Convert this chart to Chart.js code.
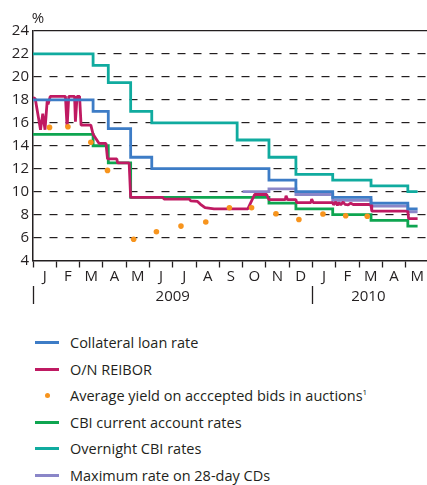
<!DOCTYPE html>
<html>
<head>
<meta charset="utf-8">
<script src="https://cdn.jsdelivr.net/npm/chart.js@4.4.1/dist/chart.umd.min.js"></script>
<style>
html,body{margin:0;padding:0;background:#fff;width:427px;height:485px;overflow:hidden;font-family:"Open Sans",sans-serif;}
#wrap{position:relative;width:427px;height:485px;}
#c{position:absolute;left:0;top:0;}
#legend{position:absolute;left:0;top:329px;width:427px;}
.row{position:absolute;left:0;height:27px;width:427px;}
.sw{position:absolute;left:35px;width:24px;height:3px;top:12px;}
.dot{position:absolute;left:45px;width:5px;height:5px;border-radius:50%;top:11px;}
.lbl{position:absolute;left:70px;top:0;line-height:27px;font-size:14.5px;color:#231f20;white-space:nowrap;}
.lbl sup{font-size:8px;vertical-align:6px;line-height:0;}
</style>
</head>
<body>
<div id="wrap">
<canvas id="c" width="427" height="310"></canvas>
<div id="legend"></div>
</div>
<script>
// ---------- DATA ----------
const monthLabels = ['J','F','M','A','M','J','J','A','S','O','N','D','J','F','M','A','M'];
const yearLabels = ['2009','2010'];
const yTicks = [4,6,8,10,12,14,16,18,20,22,24];
const endDate = '2010-05-17';

const collateralDates = ['2009-01-01','2009-03-19','2009-04-08','2009-05-07','2009-06-04','2009-11-05','2009-12-10','2010-01-28','2010-03-17','2010-05-04'];
const collateralRates = [18, 17, 15.5, 13, 12, 11, 10, 9.5, 9, 8.5];

const overnightDates = ['2009-01-01','2009-03-19','2009-04-08','2009-05-07','2009-06-04','2009-09-24','2009-11-05','2009-12-10','2010-01-28','2010-03-17','2010-05-04'];
const overnightRates = [22, 21, 19.5, 17, 16, 14.5, 13, 11.5, 11, 10.5, 10];

const currentAccDates = ['2009-01-01','2009-03-19','2009-04-08','2009-05-07','2009-11-05','2009-12-10','2010-01-28','2010-03-17','2010-05-04'];
const currentAccRates = [15, 14, 12.5, 9.5, 9, 8.5, 8, 7.5, 7];

const cdDates = ['2009-10-01','2009-11-05','2009-12-10','2010-01-28','2010-03-17','2010-05-04'];
const cdRates = [10, 10.25, 9.75, 9.25, 8.75, 8.25];

const reiborDates = ['2009-01-01','2009-01-04','2009-01-11','2009-01-14','2009-01-17','2009-01-20','2009-01-21','2009-01-24',
  '2009-02-12','2009-02-14','2009-02-16','2009-02-23','2009-02-24','2009-02-26','2009-03-01','2009-03-03','2009-03-16',
  '2009-03-19','2009-03-22','2009-03-27','2009-04-05','2009-04-07','2009-04-19','2009-04-20','2009-05-05','2009-05-07',
  '2009-06-18','2009-06-20','2009-07-23','2009-07-25','2009-08-03','2009-08-07','2009-08-13','2009-08-25','2009-10-08',
  '2009-10-17','2009-11-02','2009-11-05','2009-11-26','2009-11-27','2009-11-29','2009-12-10','2009-12-11','2009-12-30',
  '2009-12-31','2010-01-02','2010-01-28','2010-01-29','2010-02-01','2010-02-03','2010-02-05','2010-02-07','2010-02-10',
  '2010-02-12','2010-02-16','2010-02-19','2010-02-22','2010-03-17','2010-03-18','2010-05-04','2010-05-05','2010-05-17'];
const reiborRates = [18.2, 18.1, 15.4, 16.8, 15.4, 18.0, 17.6, 18.3,
  18.3, 15.6, 18.3, 18.3, 16.1, 18.3, 18.3, 15.8, 15.8,
  15.0, 14.7, 14.2, 14.2, 12.85, 12.85, 12.5, 12.5, 9.5,
  9.5, 9.35, 9.35, 9.2, 9.15, 8.9, 8.6, 8.5, 8.5,
  9.75, 9.75, 9.3, 9.3, 9.65, 9.3, 9.3, 9.05, 9.05,
  9.35, 9.05, 9.05, 8.85, 9.1, 8.8, 9.05, 8.85, 9.1,
  8.9, 8.85, 9.0, 8.88, 8.88, 8.3, 8.3, 7.65, 7.65];

const auctionDates = ['2009-01-23','2009-02-15','2009-03-16','2009-04-07','2009-05-11','2009-06-10','2009-07-12','2009-08-14',
  '2009-09-14','2009-10-13','2009-11-14','2009-12-14','2010-01-15','2010-02-13','2010-03-12'];
const auctionYields = [15.6, 15.65, 14.3, 11.85, 5.85, 6.5, 7.0, 7.35, 8.6, 8.6, 8.07, 7.57, 8.05, 7.9, 7.85];

const seriesNames = ['Collateral loan rate','O/N REIBOR','Average yield on acccepted bids in auctions','CBI current account rates','Overnight CBI rates','Maximum rate on 28-day CDs'];

// ---------- HELPERS ----------
const FONT = '"Open Sans", sans-serif';
function toM(s){const p=s.split('-').map(Number);const dim=new Date(p[0],p[1],0).getDate();return (p[0]-2009)*12+(p[1]-1)+(p[2]-1)/dim;}
function stepPts(dates, vals){const pts=dates.map((d,i)=>({x:toM(d),y:vals[i]}));pts.push({x:toM(endDate),y:vals[vals.length-1]});return pts;}
function pts(dates, vals){return dates.map((d,i)=>({x:toM(d),y:vals[i]}));}

const COLORS = {blue:'#3d7cc6', magenta:'#bf1a62', orange:'#f7941d', green:'#0ea550', teal:'#10ab9f', purple:'#8a86c8'};
const LW = 2.8;

const datasets = [
  {label:seriesNames[2], data:pts(auctionDates,auctionYields), showLine:false, pointRadius:2.8, pointBackgroundColor:COLORS.orange, pointBorderWidth:0, borderColor:COLORS.orange, order:0},
  {label:seriesNames[0], data:stepPts(collateralDates,collateralRates), stepped:'before', borderColor:COLORS.blue, borderWidth:LW, pointRadius:0, order:1},
  {label:seriesNames[1], data:pts(reiborDates,reiborRates), borderColor:COLORS.magenta, borderWidth:LW, borderJoinStyle:'bevel', pointRadius:0, order:2},
  {label:seriesNames[3], data:stepPts(currentAccDates,currentAccRates), stepped:'before', borderColor:COLORS.green, borderWidth:LW, pointRadius:0, order:3},
  {label:seriesNames[5], data:stepPts(cdDates,cdRates), stepped:'before', borderColor:COLORS.purple, borderWidth:LW, pointRadius:0, order:4},
  {label:seriesNames[4], data:stepPts(overnightDates,overnightRates), stepped:'before', borderColor:COLORS.teal, borderWidth:LW, pointRadius:0, order:5}
];

const extras = {
  id:'extras',
  afterDraw(chart){
    const ctx = chart.ctx, xs = chart.scales.x;
    ctx.save();
    ctx.fillStyle = '#231f20';
    ctx.font = '15px ' + FONT;
    ctx.textAlign = 'center';
    ctx.textBaseline = 'middle';
    ctx.fillText('%', 38, 19);
    ctx.fillText(yearLabels[0], xs.getPixelForValue(6), 297);
    ctx.fillText(yearLabels[1], xs.getPixelForValue(14.4), 297);
    ctx.strokeStyle = '#231f20';
    ctx.lineWidth = 1.3;
    [0,12].forEach(v=>{const x=Math.round(xs.getPixelForValue(v))+0.5;ctx.beginPath();ctx.moveTo(x,286);ctx.lineTo(x,304);ctx.stroke();});
    ctx.restore();
  }
};

new Chart(document.getElementById('c'), {
  type:'line',
  data:{datasets},
  options:{
    responsive:false, animation:false, devicePixelRatio:1,
    layout:{autoPadding:false, padding:{top:31,left:0,right:0,bottom:0}},
    plugins:{legend:{display:false}, tooltip:{enabled:false}},
    scales:{
      x:{type:'linear', min:0, max:16.92,
        afterBuildTicks:s=>{s.ticks=monthLabels.map((_,i)=>({value:i}));},
        afterFit:s=>{s.height=49.5;},
        grid:{drawOnChartArea:false, drawTicks:true, tickLength:7, tickColor:'#231f20', tickWidth:1.3},
        border:{display:true, color:'#231f20', width:1.5},
        ticks:{autoSkip:false, maxRotation:0, labelOffset:11.65, padding:0, font:{family:FONT,size:15}, color:'#231f20',
          callback:(v,i)=>monthLabels[i]}
      },
      y:{min:4, max:24,
        afterBuildTicks:s=>{s.ticks=yTicks.map(v=>({value:v}));},
        afterFit:s=>{s.width=33;},
        grid:{drawTicks:false, lineWidth:1.2, color:c=>(c.tick&&c.tick.value===4)?'rgba(0,0,0,0)':'#231f20'},
        border:{display:true, color:'#231f20', width:1.5, dash:c=>(c.tick&&c.tick.value>4&&c.tick.value<24)?[8,8]:[]},
        ticks:{padding:4, font:{family:FONT,size:15}, color:'#231f20'}
      }
    }
  },
  plugins:[extras]
});

// ---------- HTML LEGEND ----------
const legendOrder = [
  {name:seriesNames[0], color:COLORS.blue},
  {name:seriesNames[1], color:COLORS.magenta},
  {name:seriesNames[2], color:COLORS.orange, dot:true, sup:'1'},
  {name:seriesNames[3], color:COLORS.green},
  {name:seriesNames[4], color:COLORS.teal},
  {name:seriesNames[5], color:COLORS.purple}
];
const lg = document.getElementById('legend');
legendOrder.forEach((it,i)=>{
  const r = document.createElement('div'); r.className='row'; r.style.top=(i*26.6)+'px';
  const s = document.createElement('div'); s.className = it.dot?'dot':'sw'; s.style.background = it.color; r.appendChild(s);
  const l = document.createElement('div'); l.className='lbl'; l.textContent = it.name;
  if(it.sup){const sp=document.createElement('sup'); sp.textContent=it.sup; l.appendChild(sp);}
  r.appendChild(l); lg.appendChild(r);
});
</script>
</body>
</html>
